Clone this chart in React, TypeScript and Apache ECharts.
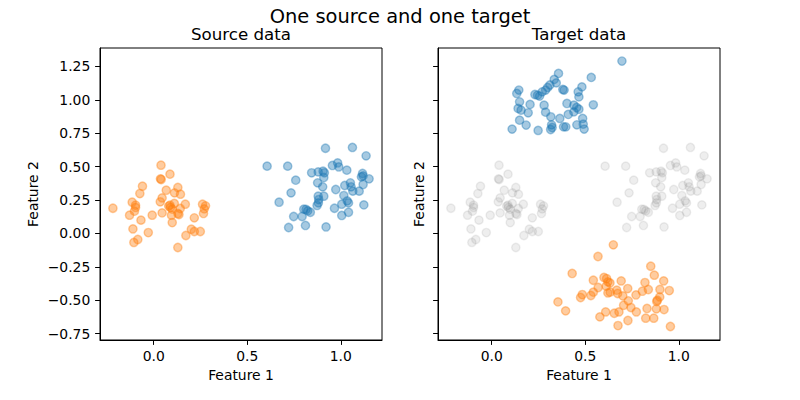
import React, { useEffect, useRef } from "react";
import * as echarts from "echarts";

const FONT = "DejaVu Sans";

const xTicks = [0, 0.5, 1.0];
const yTicks = [-0.75, -0.5, -0.25, 0, 0.25, 0.5, 0.75, 1.0, 1.25];

const sourceOrange: number[][] = [
  [0.039, 0.511], [0.087, 0.444], [0.036, 0.409], [0.040, 0.404], [-0.060, 0.354],
  [-0.074, 0.299], [0.067, 0.324], [0.129, 0.344], [0.111, 0.304], [0.143, 0.294],
  [0.045, 0.266], [0.035, 0.237], [-0.218, 0.189], [-0.115, 0.234], [-0.097, 0.212],
  [-0.097, 0.195], [-0.129, 0.137], [-0.103, 0.167], [-0.068, 0.100], [-0.111, 0.034],
  [-0.029, 0.007], [-0.085, -0.045], [-0.106, -0.067], [-0.008, 0.137], [0.045, 0.154],
  [0.087, 0.212], [0.090, 0.195], [0.099, 0.182], [0.129, 0.150], [0.135, 0.142],
  [0.095, 0.137], [0.099, 0.082], [0.169, 0.219], [0.142, 0.187], [0.261, 0.219],
  [0.277, 0.207], [0.270, 0.184], [0.266, 0.150], [0.217, 0.117], [0.201, 0.032],
  [0.172, -0.015], [0.249, 0.015], [0.217, 0.015], [0.129, -0.105], [0.080, 0.205],
  [0.110, 0.225],
];

const sourceBlue: number[][] = [
  [0.606, 0.504], [0.716, 0.504], [0.918, 0.638], [1.062, 0.644], [1.135, 0.581],
  [0.759, 0.399], [0.734, 0.304], [0.670, 0.234], [0.844, 0.454], [0.879, 0.461],
  [0.905, 0.466], [0.912, 0.454], [0.955, 0.509], [0.983, 0.528], [0.989, 0.498],
  [1.032, 0.474], [0.909, 0.419], [0.876, 0.379], [0.903, 0.349], [1.116, 0.449],
  [1.119, 0.431], [1.110, 0.424], [1.151, 0.409], [1.119, 0.367], [1.021, 0.359],
  [1.051, 0.379], [1.055, 0.349], [0.973, 0.329], [1.098, 0.317], [1.064, 0.317],
  [1.016, 0.284], [0.909, 0.279], [0.879, 0.279], [0.882, 0.254], [0.880, 0.229],
  [0.873, 0.210], [1.034, 0.244], [1.041, 0.229], [1.005, 0.219], [1.123, 0.214],
  [0.966, 0.189], [0.802, 0.182], [0.814, 0.180], [0.823, 0.169], [0.837, 0.159],
  [1.041, 0.159], [1.005, 0.135], [0.748, 0.127], [0.793, 0.127], [0.721, 0.045],
  [0.811, 0.060], [0.921, 0.049],
];

const targetBlue: number[][] = [
  [0.696, 1.290], [0.357, 1.198], [0.532, 1.168], [0.334, 1.153], [0.345, 1.127],
  [0.145, 1.073], [0.134, 1.048], [0.311, 1.111], [0.299, 1.093], [0.288, 1.073],
  [0.270, 1.060], [0.231, 1.040], [0.245, 1.035], [0.256, 1.028], [0.380, 1.078],
  [0.387, 1.073], [0.482, 1.097], [0.462, 1.060], [0.466, 1.022], [0.149, 0.985],
  [0.141, 0.936], [0.157, 0.923], [0.205, 0.966], [0.195, 0.903], [0.280, 0.960],
  [0.288, 0.908], [0.402, 0.973], [0.439, 0.960], [0.454, 0.943], [0.466, 0.930],
  [0.543, 0.963], [0.409, 0.891], [0.439, 0.910], [0.149, 0.848], [0.109, 0.781],
  [0.184, 0.811], [0.248, 0.771], [0.316, 0.873], [0.320, 0.813], [0.315, 0.778],
  [0.323, 0.793], [0.364, 0.861], [0.384, 0.798], [0.396, 0.798], [0.455, 0.813],
  [0.486, 0.861], [0.489, 0.818], [0.494, 0.781],
];

const targetOrange: number[][] = [
  [0.650, -0.085], [0.568, -0.172], [0.430, -0.299], [0.850, -0.245], [0.869, -0.312],
  [0.543, -0.350], [0.600, -0.329], [0.614, -0.337], [0.621, -0.362], [0.632, -0.370],
  [0.692, -0.355], [0.819, -0.367], [0.919, -0.355], [0.569, -0.404], [0.612, -0.394],
  [0.727, -0.412], [0.621, -0.445], [0.668, -0.424], [0.673, -0.449], [0.543, -0.439],
  [0.530, -0.464], [0.484, -0.457], [0.475, -0.479], [0.633, -0.439], [0.701, -0.467],
  [0.805, -0.432], [0.837, -0.419], [0.771, -0.460], [0.899, -0.419], [0.949, -0.427],
  [0.898, -0.475], [0.885, -0.499], [0.882, -0.509], [0.730, -0.504], [0.744, -0.554],
  [0.705, -0.537], [0.773, -0.587], [0.830, -0.561], [0.880, -0.564], [0.921, -0.569],
  [0.354, -0.512], [0.395, -0.579], [0.609, -0.587], [0.578, -0.624], [0.655, -0.597],
  [0.680, -0.587], [0.728, -0.651], [0.675, -0.689], [0.823, -0.634], [0.866, -0.634],
  [0.955, -0.696],
];

const BLUE = "rgba(31,119,180,0.5)";
const ORANGE = "rgba(255,127,14,0.5)";
const GRAY = "rgba(128,128,128,0.17)";

function minus(s: string) {
  return s.replace("-", "\u2212");
}

export default function App() {
  const ref = useRef<HTMLDivElement>(null);
  useEffect(() => {
    if (!ref.current) return;
    const chart = echarts.init(ref.current, undefined, { renderer: "svg" });
    const textStyle = { color: "#000", fontFamily: FONT, fontSize: 13.9 };

    const mkX = (i: number) => ({
      type: "value",
      gridIndex: i,
      min: -0.287,
      max: 1.22,
      splitLine: { show: false },
      axisLine: { show: true, onZero: false, lineStyle: { color: "#000", width: 1 } },
      axisTick: { show: true, length: 4.9, customValues: xTicks, lineStyle: { color: "#000", width: 1 } },
      axisLabel: {
        customValues: xTicks,
        formatter: (v: number) => minus(v.toFixed(1)),
        margin: 9,
        ...textStyle,
      },
      name: "Feature 1",
      nameLocation: "middle",
      nameGap: 28,
      nameTextStyle: textStyle,
    });
    const mkY = (i: number, showLabels: boolean, gap: number) => ({
      type: "value",
      gridIndex: i,
      min: -0.797,
      max: 1.388,
      splitLine: { show: false },
      axisLine: { show: true, onZero: false, lineStyle: { color: "#000", width: 1 } },
      axisTick: { show: true, length: 4.9, customValues: yTicks, lineStyle: { color: "#000", width: 1 } },
      axisLabel: {
        show: showLabels,
        customValues: yTicks,
        formatter: (v: number) => minus(v.toFixed(2)),
        margin: 9.7,
        ...textStyle,
      },
      name: "Feature 2",
      nameLocation: "middle",
      nameGap: gap,
      nameTextStyle: textStyle,
    });

    const sym = (color: string, data: number[][], gi: number) => ({
      type: "scatter",
      xAxisIndex: gi,
      yAxisIndex: gi,
      data,
      symbol: "circle",
      symbolSize: 8.3,
      itemStyle: { color, borderColor: color, borderWidth: 1.4 },
      emphasis: { disabled: true },
      silent: true,
    });

    chart.setOption({
      animation: false,
      grid: [
        { left: 100, top: 48, width: 282, height: 292, show: true, borderColor: "#000", borderWidth: 1, backgroundColor: "transparent", outerBoundsMode: "none" },
        { left: 438, top: 48, width: 282, height: 292, show: true, borderColor: "#000", borderWidth: 1, backgroundColor: "transparent", outerBoundsMode: "none" },
      ],
      xAxis: [mkX(0), mkX(1)],
      yAxis: [mkY(0, true, 60), mkY(1, false, 12)],
      series: [
        sym(ORANGE, sourceOrange, 0),
        sym(BLUE, sourceBlue, 0),
        sym(GRAY, sourceOrange, 1),
        sym(GRAY, sourceBlue, 1),
        sym(BLUE, targetBlue, 1),
        sym(ORANGE, targetOrange, 1),
      ],
      graphic: [
        {
          type: "text",
          x: 400,
          y: 16.5,
          style: { text: "One source and one target", fill: "#000", font: `19.44px "${FONT}"`, textAlign: "center", textVerticalAlign: "middle" },
        },
        {
          type: "text",
          x: 241,
          y: 34.5,
          style: { text: "Source data", fill: "#000", font: `16.67px "${FONT}"`, textAlign: "center", textVerticalAlign: "middle" },
        },
        {
          type: "text",
          x: 579,
          y: 34.5,
          style: { text: "Target data", fill: "#000", font: `16.67px "${FONT}"`, textAlign: "center", textVerticalAlign: "middle" },
        },
      ],
    });
    return () => chart.dispose();
  }, []);
  return (
    <div
      ref={ref}
      style={{ position: "fixed", left: 0, top: 0, width: 800, height: 400, background: "#fff" }}
    />
  );
}
